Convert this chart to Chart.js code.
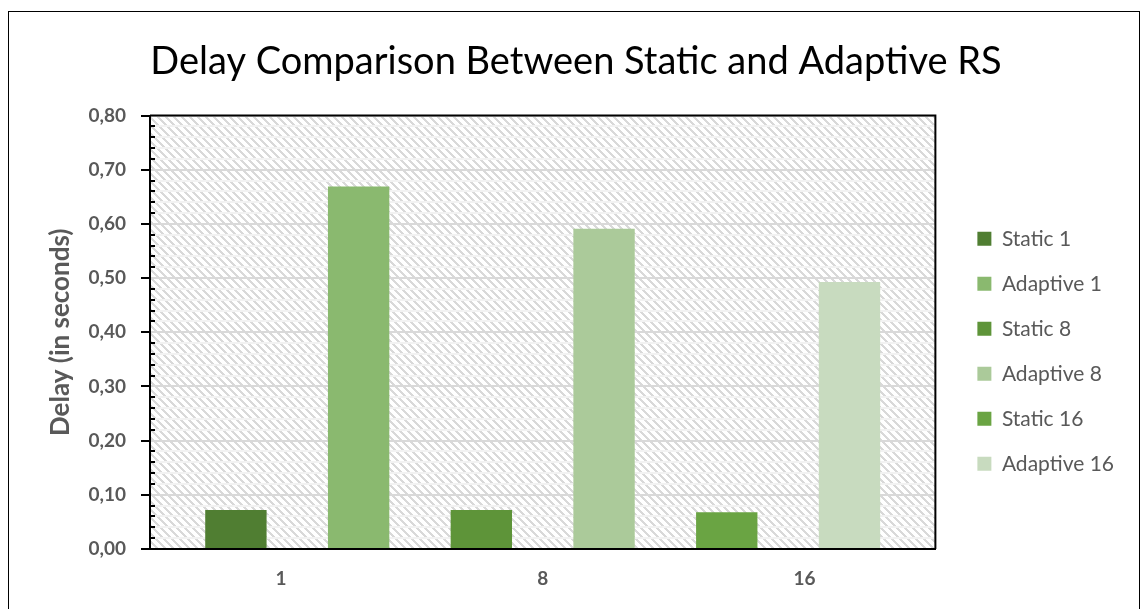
<!DOCTYPE html>
<html>
<head>
<meta charset="utf-8">
<title>Delay Comparison Between Static and Adaptive RS</title>
<script src="https://cdn.jsdelivr.net/npm/chart.js@4.4.0/dist/chart.umd.min.js"></script>
<style>
  html, body { margin: 0; padding: 0; background: #fff; }
  canvas { display: block; }
</style>
</head>
<body>
<canvas id="delayChart" width="1143" height="609"></canvas>
<script>
// Number of relay stations per scenario (x categories)
const categories = ['1', '8', '16'];
// Mean delay in seconds
const staticDelay = [0.072, 0.072, 0.068];
const adaptiveDelay = [0.669, 0.591, 0.493];
// Y axis range and tick steps
const yMax = 0.8;
const yStep = 0.1;
const yMinorStep = 0.02;

// Series colours
const staticColors = ['#507e32', '#5e9439', '#6aa443'];
const adaptiveColors = ['#8ab96f', '#abca9a', '#c8dbbf'];

const FONT = 'Lato, "Open Sans", sans-serif';
const GREY = '#595959';

// One dataset per legend entry; static and adaptive bars sit side by side
const datasets = [];
categories.forEach((cat, i) => {
  datasets.push({
    label: 'Static ' + cat,
    data: [{ x: i, y: staticDelay[i] }],
    stack: 'static',
    xAxisID: 'xb',
    backgroundColor: staticColors[i],
    borderWidth: 0
  });
  datasets.push({
    label: 'Adaptive ' + cat,
    data: [{ x: i, y: adaptiveDelay[i] }],
    stack: 'adaptive',
    xAxisID: 'xb',
    backgroundColor: adaptiveColors[i],
    borderWidth: 0
  });
});

// Downward diagonal hatch for the plot background
const hatchTile = document.createElement('canvas');
hatchTile.width = 8;
hatchTile.height = 8;
(function () {
  const g = hatchTile.getContext('2d');
  g.fillStyle = '#ffffff';
  g.fillRect(0, 0, 8, 8);
  g.fillStyle = '#d9d9d9';
  for (let y = 0; y < 8; y++) {
    for (let k = 0; k < 3; k++) g.fillRect((y + k) % 8, y, 1, 1);
  }
})();

const minorCount = Math.round(yMax / yMinorStep);
const minorPerMajor = Math.round(yStep / yMinorStep);

const plotFrame = {
  id: 'plotFrame',
  beforeDraw(chart) {
    const { ctx, chartArea: a, scales: { y } } = chart;
    ctx.save();
    ctx.fillStyle = '#ffffff';
    ctx.fillRect(0, 0, chart.width, chart.height);
    ctx.fillStyle = ctx.createPattern(hatchTile, 'repeat');
    ctx.fillRect(a.left, a.top, a.right - a.left, a.bottom - a.top);
    // minor gridlines
    ctx.strokeStyle = '#f2f2f2';
    ctx.lineWidth = 2;
    for (let i = 1; i < minorCount; i++) {
      if (i % minorPerMajor === 0) continue;
      const py = Math.round(y.getPixelForValue(i * yMinorStep));
      ctx.beginPath();
      ctx.moveTo(a.left, py);
      ctx.lineTo(a.right, py);
      ctx.stroke();
    }
    ctx.restore();
  },
  afterDraw(chart) {
    const { ctx, chartArea: a, scales: { y } } = chart;
    ctx.save();
    // plot area top and right edges
    ctx.strokeStyle = '#000';
    ctx.lineWidth = 2;
    ctx.beginPath();
    ctx.moveTo(a.left, a.top);
    ctx.lineTo(a.right, a.top);
    ctx.lineTo(a.right, a.bottom);
    ctx.stroke();
    // minor tick marks on the value axis
    for (let i = 1; i < minorCount; i++) {
      if (i % minorPerMajor === 0) continue;
      const py = Math.round(y.getPixelForValue(i * yMinorStep));
      ctx.beginPath();
      ctx.moveTo(a.left, py);
      ctx.lineTo(a.left + 5, py);
      ctx.stroke();
    }
    // outer chart frame
    ctx.lineWidth = 1;
    ctx.strokeRect(8.5, 11.5, 1131, 700);
    ctx.restore();
  }
};

new Chart(document.getElementById('delayChart'), {
  type: 'bar',
  data: { labels: categories, datasets },
  plugins: [plotFrame],
  options: {
    responsive: false,
    animation: false,
    devicePixelRatio: 1,
    layout: { padding: { left: 28, right: 19, top: 0, bottom: 0 } },
    datasets: { bar: { categoryPercentage: 1.0, barPercentage: 0.5 } },
    scales: {
      x: {
        type: 'category',
        labels: categories,
        offset: true,
        grid: { display: false, drawTicks: false },
        border: { display: true, color: '#000', width: 2 },
        ticks: { color: GREY, padding: 18, font: { family: FONT, size: 19, weight: 'bold' } },
        afterFit(s) { s.height = 60; }
      },
      xb: {
        type: 'linear',
        axis: 'x',
        display: false,
        offset: false,
        min: -0.6,
        max: 2.6,
        afterBuildTicks(s) { s.ticks = categories.map((_, i) => ({ value: i })); }
      },
      y: {
        min: 0,
        max: yMax,
        ticks: {
          stepSize: yStep,
          color: GREY,
          padding: 15,
          font: { family: FONT, size: 19, weight: 'bold' },
          callback: (v) => v.toFixed(2).replace('.', ',')
        },
        grid: { color: '#d9d9d9', lineWidth: 2, tickColor: '#000', tickLength: 9, tickWidth: 2 },
        border: { color: '#000', width: 2 },
        title: {
          display: true,
          text: 'Delay (in seconds)',
          color: GREY,
          font: { family: FONT, size: 26, weight: 'bold' },
          padding: { top: 17, bottom: 0 }
        },
        afterFit(s) { s.width = 122; }
      },
      yGap: {
        type: 'linear',
        position: 'right',
        display: true,
        grid: { display: false, drawTicks: false },
        border: { display: false },
        ticks: { display: false },
        afterFit(s) { s.width = 18; }
      }
    },
    plugins: {
      tooltip: { enabled: false },
      title: {
        display: true,
        text: 'Delay Comparison Between Static and Adaptive RS',
        color: '#000',
        font: { family: FONT, size: 38, weight: 'normal' },
        padding: { top: 39, bottom: 31 }
      },
      legend: {
        position: 'right',
        fullSize: false,
        align: 'center',
        title: { display: true, text: ' ', font: { family: FONT, size: 14, lineHeight: 1 }, padding: 12 },
        labels: {
          boxWidth: 14,
          boxHeight: 14,
          padding: 24,
          color: GREY,
          font: { family: FONT, size: 21 }
        }
      }
    }
  }
});
</script>
</body>
</html>
